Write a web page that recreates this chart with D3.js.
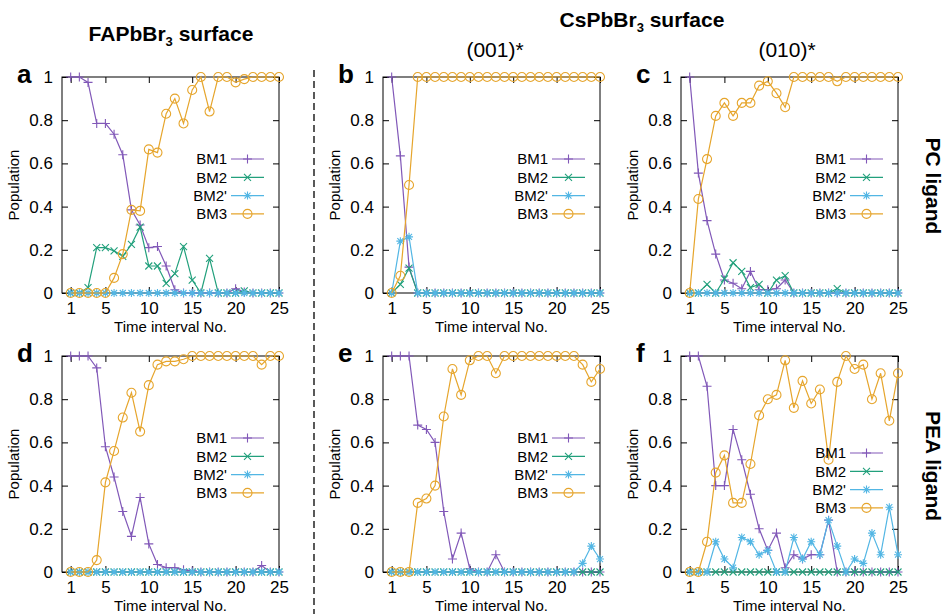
<!DOCTYPE html>
<meta charset="utf-8">
<style>
body { margin: 0; background: #fff; }
svg { font-family: "Liberation Sans", Arial, sans-serif; }
.frame { fill: none; stroke: #000; stroke-width: 1px; }
.line { fill: none; stroke-width: 1.2px; }
.mark { fill: none; stroke-width: 1.1px; }
.axis path { display: none; }
.axis line { stroke: #000; }
.axis text { font-size: 17px; fill: #000; }
</style>
<body>
<script src="https://cdn.jsdelivr.net/npm/d3@7"></script>
<script>

// time intervals (x) and series names
var intervals = [1,2,3,4,5,6,7,8,9,10,11,12,13,14,15,16,17,18,19,20,21,22,23,24,25];
var seriesNames = ["BM1", "BM2", "BM2'", "BM3"];
var yTicks = [0, 0.2, 0.4, 0.6, 0.8, 1];
var xTicks = [1, 5, 10, 15, 20, 25];

// (a) FAPbBr3, PC ligand
var a_BM1  = [1,1,0.975,0.785,0.785,0.735,0.64,0.385,0.315,0.21,0.215,0.125,0.015,0,0,0,0,0,0,0.02,0.005,0,0,0,0];
var a_BM2  = [0,0,0.025,0.21,0.21,0.195,0.17,0.225,0.305,0.125,0.125,0.045,0.09,0.215,0.06,0,0.16,0,0,0,0.01,0,0,0,0];
var a_BM2p = [0,0,0,0,0,0,0,0,0,0,0,0,0,0,0,0,0,0,0,0,0,0,0,0,0];
var a_BM3  = [0,0,0,0,0,0.07,0.18,0.385,0.38,0.665,0.65,0.83,0.9,0.785,0.94,1,0.84,1,1,0.975,0.99,1,1,1,1];

// (b) CsPbBr3 (001)*, PC ligand
var b_BM1  = [1,0.635,0.12,0,0,0,0,0,0,0,0,0,0,0,0,0,0,0,0,0,0,0,0,0,0];
var b_BM2  = [0,0.04,0.115,0,0,0,0,0,0,0,0,0,0,0,0,0,0,0,0,0,0,0,0,0,0];
var b_BM2p = [0,0.24,0.26,0,0,0,0,0,0,0,0,0,0,0,0,0,0,0,0,0,0,0,0,0,0];
var b_BM3  = [0,0.08,0.5,1,1,1,1,1,1,1,1,1,1,1,1,1,1,1,1,1,1,1,1,1,1];

// (c) CsPbBr3 (010)*, PC ligand
var c_BM1  = [1,0.555,0.335,0.18,0.06,0.045,0.02,0.1,0.015,0.015,0.02,0.06,0,0,0,0,0,0,0,0,0,0,0,0,0];
var c_BM2  = [0,0,0.04,0,0.065,0.14,0.1,0.025,0.04,0,0.06,0.08,0,0,0,0,0,0.02,0,0,0,0,0,0,0];
var c_BM2p = [0,0,0,0,0,0,0,0,0,0,0,0,0,0,0,0,0,0,0,0,0,0,0,0,0];
var c_BM3  = [0,0.435,0.62,0.82,0.88,0.82,0.88,0.88,0.96,0.98,0.925,0.86,1,1,1,1,1,0.98,1,1,1,1,1,1,1];

// (d) FAPbBr3, PEA ligand
var d_BM1  = [1,1,1,0.945,0.58,0.44,0.28,0.165,0.345,0.13,0.035,0.02,0.02,0.01,0.005,0,0,0,0,0,0,0,0.03,0,0];
var d_BM2  = [0,0,0,0,0,0,0,0,0,0,0,0,0,0,0,0,0,0,0,0,0,0,0,0,0];
var d_BM2p = [0,0,0,0,0,0,0,0,0,0,0,0,0,0,0,0,0,0,0,0,0,0,0,0,0];
var d_BM3  = [0,0,0,0.055,0.415,0.56,0.715,0.83,0.65,0.865,0.96,0.975,0.975,0.985,1,1,1,1,1,1,1,1,0.96,1,1];

// (e) CsPbBr3 (001)*, PEA ligand
var e_BM1  = [1,1,1,0.68,0.66,0.6,0.28,0.06,0.18,0.015,0,0,0.08,0,0,0,0,0,0,0,0,0,0,0,0];
var e_BM2  = [0,0,0,0,0,0,0,0,0,0,0,0,0,0,0,0,0,0,0,0,0,0,0,0,0];
var e_BM2p = [0,0,0,0,0,0,0,0,0,0,0,0,0,0,0,0,0,0,0,0,0,0,0.04,0.12,0.06];
var e_BM3  = [0,0,0,0.32,0.34,0.4,0.72,0.94,0.82,0.98,1,1,0.92,1,1,1,1,1,1,1,1,1,0.96,0.88,0.94];

// (f) CsPbBr3 (010)*, PEA ligand
var f_BM1  = [1,1,0.86,0.4,0.4,0.66,0.52,0.36,0.2,0.1,0.18,0.02,0.08,0.06,0.08,0.08,0.24,0,0,0,0,0,0,0,0];
var f_BM2  = [0,0,0,0,0,0,0,0,0,0,0,0,0,0,0,0,0,0,0,0,0,0,0,0,0];
var f_BM2p = [0,0,0,0.14,0.06,0.02,0.16,0.14,0.08,0.1,0,0,0.16,0.06,0.14,0.08,0.24,0.12,0,0.06,0.04,0.18,0.08,0.3,0.08];
var f_BM3  = [0,0,0.14,0.46,0.54,0.32,0.32,0.5,0.725,0.8,0.82,0.98,0.76,0.885,0.78,0.845,0.52,0.88,1,0.94,0.96,0.8,0.92,0.7,0.92];

// styles
var colors = ["#8158b8", "#22a07c", "#52b6e4", "#e6a52c"];
var markers = [
  "M-4.5,0H4.5M0,-4.5V4.5",
  "M-3.5,-3.5L3.5,3.5M-3.5,3.5L3.5,-3.5",
  "M-4,0H4M0,-4V4M-3,-3L3,3M-3,3L3,-3",
  "M4.5,0A4.5,4.5 0 1,1 -4.5,0A4.5,4.5 0 1,1 4.5,0"
];

var svg = d3.select("body").append("svg")
    .attr("width", 948)
    .attr("height", 614);

var pw = 217, ph = 216;

var panels = [
  {id: "a", left: 62,  top: 77,  legendTop: 82, data: [a_BM1, a_BM2, a_BM2p, a_BM3]},
  {id: "b", left: 383, top: 77,  legendTop: 82, data: [b_BM1, b_BM2, b_BM2p, b_BM3]},
  {id: "c", left: 681, top: 77,  legendTop: 82, data: [c_BM1, c_BM2, c_BM2p, c_BM3]},
  {id: "d", left: 62,  top: 356, legendTop: 82, data: [d_BM1, d_BM2, d_BM2p, d_BM3]},
  {id: "e", left: 383, top: 356, legendTop: 82, data: [e_BM1, e_BM2, e_BM2p, e_BM3]},
  {id: "f", left: 681, top: 356, legendTop: 97, data: [f_BM1, f_BM2, f_BM2p, f_BM3]}
];

panels.forEach(function(p) {
  var g = svg.append("g").attr("transform", "translate(" + p.left + "," + p.top + ")");

  var x = d3.scaleLinear().domain([0, 25]).range([0, pw]);
  var y = d3.scaleLinear().domain([0, 1]).range([ph, 0]);

  // axes, ticks pointing inwards on all four sides
  g.append("g").attr("class", "axis")
      .call(d3.axisLeft(y).tickValues(yTicks).tickSizeInner(-6).tickSizeOuter(0)
        .tickPadding(9).tickFormat(d3.format("~g")));
  g.append("g").attr("class", "axis")
      .attr("transform", "translate(" + pw + ",0)")
      .call(d3.axisRight(y).tickValues(yTicks).tickSizeInner(-6).tickSizeOuter(0).tickFormat(""));
  g.append("g").attr("class", "axis")
      .attr("transform", "translate(0," + ph + ")")
      .call(d3.axisBottom(x).tickValues(xTicks).tickSizeInner(-6).tickSizeOuter(0).tickPadding(9));
  g.append("g").attr("class", "axis")
      .call(d3.axisTop(x).tickValues(xTicks).tickSizeInner(-6).tickSizeOuter(0).tickFormat(""));

  g.append("rect").attr("class", "frame")
      .attr("width", pw).attr("height", ph);

  // series
  p.data.forEach(function(vals, k) {
    var pts = intervals.map(function(t, i) { return [t, vals[i]]; });
    var line = d3.line()
        .x(function(d) { return x(d[0]); })
        .y(function(d) { return y(d[1]); });
    g.append("path")
        .attr("class", "line")
        .attr("stroke", colors[k])
        .attr("d", line(pts));
    g.selectAll(null).data(pts).enter().append("path")
        .attr("class", "mark")
        .attr("stroke", colors[k])
        .attr("transform", function(d) { return "translate(" + x(d[0]) + "," + y(d[1]) + ")"; })
        .attr("d", markers[k]);
  });

  // legend
  var leg = g.selectAll(".leg").data(seriesNames).enter().append("g")
      .attr("transform", function(d, i) { return "translate(0," + (p.legendTop + i * 18.3) + ")"; });
  leg.append("text")
      .attr("x", pw - 52)
      .attr("dy", "0.35em")
      .attr("text-anchor", "end")
      .style("font-size", "15px")
      .text(function(d) { return d; });
  leg.append("line")
      .attr("x1", pw - 48).attr("x2", pw - 15)
      .attr("stroke", function(d, i) { return colors[i]; })
      .attr("stroke-width", 1.2);
  leg.append("path")
      .attr("class", "mark")
      .attr("transform", "translate(" + (pw - 31.5) + ",0)")
      .attr("stroke", function(d, i) { return colors[i]; })
      .attr("d", function(d, i) { return markers[i]; });

  // axis titles
  g.append("text")
      .attr("transform", "translate(-43," + (ph / 2) + ") rotate(-90)")
      .attr("text-anchor", "middle")
      .style("font-size", "15px")
      .text("Population");
  g.append("text")
      .attr("x", pw / 2)
      .attr("y", ph + 39)
      .attr("text-anchor", "middle")
      .style("font-size", "15px")
      .text("Time interval No.");

  // panel letter
  g.append("text")
      .attr("x", -45)
      .attr("y", 6)
      .style("font-size", "26px")
      .style("font-weight", "bold")
      .text(p.id);
});

// headers
function header(xc, yb, main, rest) {
  var t = svg.append("text")
      .attr("x", xc).attr("y", yb)
      .attr("text-anchor", "middle")
      .style("font-size", "21px")
      .style("font-weight", "bold");
  t.append("tspan").text(main);
  t.append("tspan").attr("dy", 5).style("font-size", "13px").text("3");
  t.append("tspan").attr("dy", -5).text(rest);
}
header(171, 41, "FAPbBr", " surface");
header(642, 27, "CsPbBr", " surface");

svg.append("text").attr("x", 495).attr("y", 57).attr("text-anchor", "middle")
    .style("font-size", "21px").text("(001)*");
svg.append("text").attr("x", 787).attr("y", 57).attr("text-anchor", "middle")
    .style("font-size", "21px").text("(010)*");

// row labels on the right
svg.append("text")
    .attr("transform", "translate(933,186) rotate(90)")
    .attr("text-anchor", "middle")
    .attr("dy", "0.35em")
    .style("font-size", "21px")
    .style("font-weight", "bold")
    .text("PC ligand");
svg.append("text")
    .attr("transform", "translate(933,466) rotate(90)")
    .attr("text-anchor", "middle")
    .attr("dy", "0.35em")
    .style("font-size", "21px")
    .style("font-weight", "bold")
    .text("PEA ligand");

// dashed separator
svg.append("line")
    .attr("x1", 314).attr("x2", 314)
    .attr("y1", 70).attr("y2", 614)
    .attr("stroke", "#000")
    .attr("stroke-width", 1.3)
    .attr("stroke-dasharray", "7,4");

</script>
</body>
